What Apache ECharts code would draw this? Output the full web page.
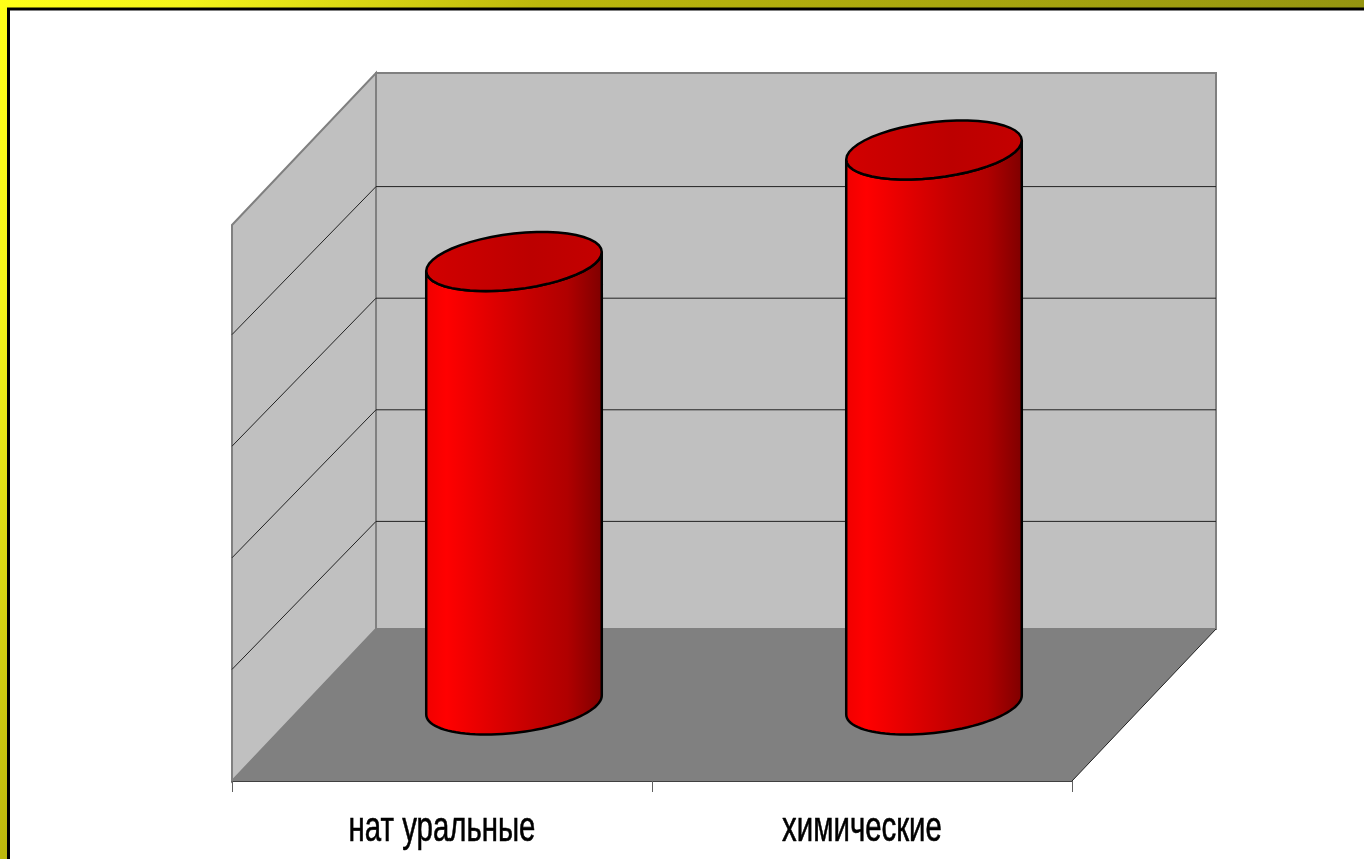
<!DOCTYPE html>
<html>
<head>
<meta charset="utf-8">
<title>chart</title>
<style>
html, body { margin: 0; padding: 0; background: #fff; }
#chart { width: 1364px; height: 859px; }
</style>
<script src="https://cdn.jsdelivr.net/npm/echarts@6/dist/echarts.min.js"></script>
</head>
<body>
<div id="chart"></div>
<script>
var categories = ['нат уральные', 'химические'];
var seriesValues = [4, 5];
var valueTicks = [1, 2, 3, 4];

// depth of the fake 3d box, in pixels
var depthX = 144, depthY = 148;

var chart = echarts.init(document.getElementById('chart'));

function poly(points, fill, stroke, lineWidth) {
    return {
        type: 'polygon',
        shape: { points: points },
        style: { fill: fill, stroke: stroke, lineWidth: lineWidth }
    };
}

function renderWalls(params, api) {
    var rect = params.coordSys;
    var left = rect.x, right = rect.x + rect.width;
    var base = api.coord([0, 0])[1];
    var top = api.coord([0, 5])[1];
    var backTop = top - depthY - 2, backBase = base - 152;
    var children = [
        // side wall
        poly([[left, top + 2], [left + depthX, backTop], [left + depthX, backBase], [left, base]], '#c0c0c0', '#808080', 2),
        // back wall
        poly([[left + depthX, backTop], [right + depthX, backTop], [right + depthX, backBase], [left + depthX, backBase]], '#c0c0c0', '#808080', 2),
        // floor
        poly([[left, base], [left + depthX, backBase], [right + depthX, backBase], [right, base]], '#808080', null, 0),
        { type: 'line', shape: { x1: right, y1: base, x2: right + depthX, y2: backBase }, style: { stroke: '#222', lineWidth: 1 } }
    ];
    valueTicks.forEach(function(v) {
        var y = api.coord([0, v])[1];
        children.push({
            type: 'polyline',
            shape: { points: [[left, y], [left + depthX, y - depthY], [right + depthX, y - depthY]] },
            style: { fill: null, stroke: '#222', lineWidth: 1 }
        });
    });
    return { type: 'group', children: children };
}

// slanted ellipse, the way the old office 3d cylinders look
function ellipsePoints(cx, cy, a, from, to) {
    var pts = [];
    for (var i = 0; i <= 48; i++) {
        var t = from + (to - from) * i / 48;
        pts.push([cx + a * Math.cos(t), cy + 28 * Math.sin(t) - 9.5 * Math.cos(t)]);
    }
    return pts;
}

function renderBar(params, api) {
    var idx = api.value(0);
    var x = api.coord([idx, 0])[0] + depthX / 2;
    var yBase = api.coord([idx, 0])[1] - 76;
    var yTop = api.coord([idx, api.value(1)])[1] - 73;
    var a = api.size([1, 0])[0] * 0.209;
    var body = ellipsePoints(x, yBase, a, 0, Math.PI).concat(ellipsePoints(x, yTop, a, Math.PI, 0));
    var bodyFill = new echarts.graphic.LinearGradient(0, 0, 1, 0, [
        { offset: 0, color: '#f00000' },
        { offset: 0.12, color: '#ff0000' },
        { offset: 0.6, color: '#c40000' },
        { offset: 0.8, color: '#b00000' },
        { offset: 1, color: '#7e0000' }
    ]);
    var capFill = new echarts.graphic.LinearGradient(0, 0, 1, 0, [
        { offset: 0, color: '#d20000' },
        { offset: 0.6, color: '#bc0000' },
        { offset: 1, color: '#c40000' }
    ]);
    return {
        type: 'group',
        children: [
            poly(body, bodyFill, '#000', 2.5),
            poly(ellipsePoints(x, yTop, a, 0, Math.PI * 2), capFill, '#000', 2.5)
        ]
    };
}

// labels are squeezed horizontally in the original, axisLabel cant do that
function renderLabel(params, api) {
    var idx = api.value(0);
    return {
        type: 'text',
        x: api.coord([idx, 0])[0],
        y: api.coord([idx, 0])[1] + 48,
        scaleX: 0.7,
        style: {
            text: categories[idx],
            fill: '#000',
            stroke: '#000',
            lineWidth: 0.6,
            fontFamily: '"Liberation Sans", Arial, sans-serif',
            fontSize: 42,
            align: 'center',
            verticalAlign: 'middle'
        }
    };
}

var option = {
    animation: false,
    backgroundColor: new echarts.graphic.LinearGradient(0, 0, 1, 1, [
        { offset: 0, color: '#ffff18' },
        { offset: 0.1, color: '#f4f41a' },
        { offset: 0.284, color: '#bdb80c' },
        { offset: 0.716, color: '#959510' },
        { offset: 1, color: '#808008' }
    ]),
    graphic: [{
        type: 'rect',
        z: 0,
        shape: { x: 8.5, y: 9, width: 1400, height: 900 },
        style: { fill: '#fff', stroke: '#000', lineWidth: 3 }
    }],
    grid: { left: 232, top: 223, width: 840, height: 558, containLabel: false },
    xAxis: {
        type: 'category',
        data: categories,
        z: 5,
        axisLine: { show: true, lineStyle: { color: '#404040', width: 1 } },
        axisTick: { show: true, alignWithLabel: false, length: 11, lineStyle: { color: '#606060', width: 1 } },
        axisLabel: { show: false }
    },
    yAxis: {
        type: 'value',
        min: 0,
        max: 5,
        interval: 1,
        axisLine: { show: false },
        axisTick: { show: false },
        axisLabel: { show: false },
        splitLine: { show: false }
    },
    series: [{
        type: 'custom',
        z: 1,
        silent: true,
        renderItem: renderWalls,
        data: [[0, 0]]
    }, {
        type: 'custom',
        z: 3,
        renderItem: renderBar,
        encode: { x: 0, y: 1 },
        data: seriesValues.map(function(v, i) { return [i, v]; })
    }, {
        type: 'custom',
        z: 3,
        silent: true,
        renderItem: renderLabel,
        data: categories.map(function(c, i) { return [i, 0]; })
    }]
};
chart.setOption(option);
</script>
</body>
</html>
